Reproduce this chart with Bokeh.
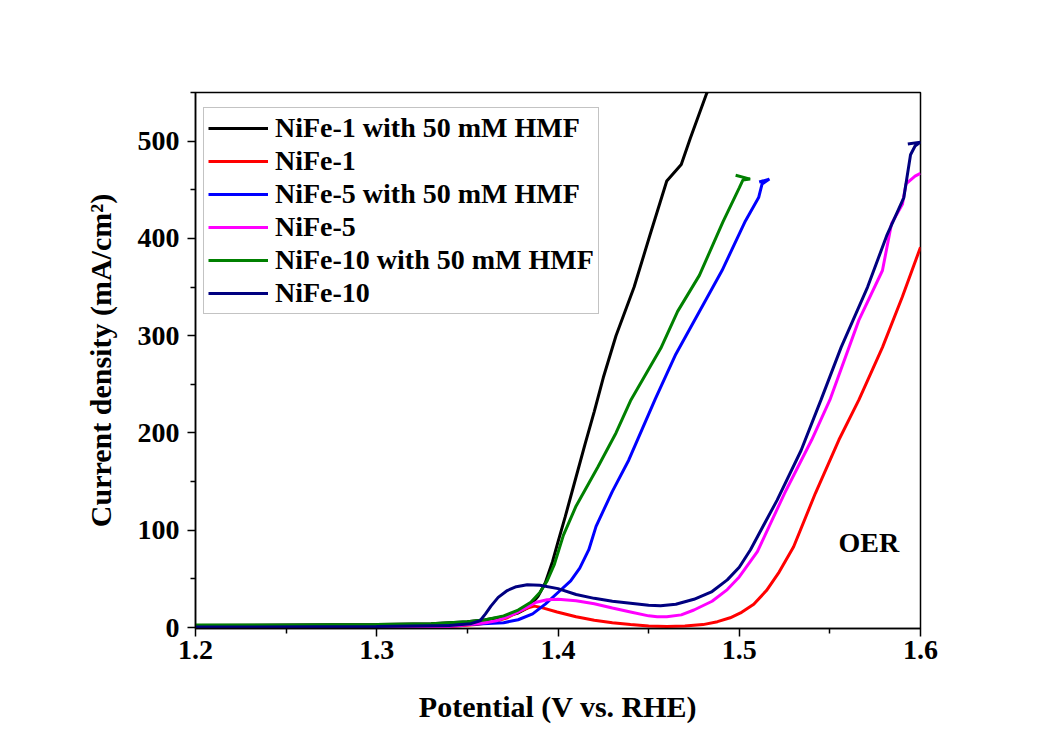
from bokeh.plotting import figure
from bokeh.models import FixedTicker, Label, Legend, LegendItem, Range1d
from bokeh.embed import file_html
from bokeh.resources import INLINE

# ---- data (potential V vs RHE, current density mA/cm2) ----
nife1_hmf_x = [1.20, 1.25, 1.30, 1.33, 1.35, 1.36, 1.37, 1.378, 1.384, 1.389, 1.393, 1.397, 1.40, 1.404,
               1.41, 1.415, 1.42, 1.425, 1.432, 1.442, 1.451, 1.460, 1.468, 1.473, 1.482, 1.485]
nife1_hmf_y = [2, 2.5, 3, 4, 6, 8, 11, 15, 21, 32, 46, 68, 88, 114,
               155, 189, 222, 257, 300, 350, 405, 459, 476, 503, 549, 560]

nife1_x = [1.20, 1.30, 1.34, 1.355, 1.365, 1.372, 1.377, 1.383, 1.387, 1.392, 1.3995, 1.41, 1.42,
           1.43, 1.44, 1.45, 1.46, 1.47, 1.48, 1.488, 1.495, 1.5007, 1.508, 1.515, 1.522,
           1.530, 1.542, 1.555, 1.566, 1.579, 1.590, 1.600]
nife1_y = [0, 0.3, 1, 3, 6, 10, 15, 20, 22, 20, 16, 11, 7.5,
           5, 3, 1.5, 1, 1.5, 3, 6, 10, 15, 24, 38, 57,
           83, 138, 193, 234, 288, 340, 391]

nife5_hmf_x = [1.20, 1.30, 1.35, 1.37, 1.378, 1.386, 1.393, 1.40, 1.407, 1.412, 1.417, 1.421, 1.430,
               1.439, 1.4537, 1.465, 1.4813, 1.4905, 1.5034, 1.5107, 1.5126, 1.5166, 1.511]
nife5_hmf_y = [1, 1.5, 3, 5, 8, 14, 24, 36, 48, 61, 80, 104, 140,
               172, 235, 281, 336, 367, 418, 442, 456, 461, 458]

nife5_x = [1.20, 1.30, 1.34, 1.351, 1.36, 1.366, 1.372, 1.377, 1.383, 1.388, 1.394, 1.40, 1.41,
           1.42, 1.43, 1.44, 1.45, 1.4547, 1.46, 1.468, 1.475, 1.485, 1.4934, 1.50, 1.51,
           1.525, 1.540, 1.550, 1.566, 1.579, 1.584, 1.590, 1.592, 1.597, 1.600]
nife5_y = [0, 0.5, 1, 3, 5, 7, 11, 15, 21, 26, 28.5, 29, 27.5,
           24.5, 20, 16, 12, 11, 11, 13, 18, 27, 39, 52, 78,
           138, 193, 234, 316, 367, 415, 435, 456, 464, 467]

nife10_hmf_x = [1.20, 1.25, 1.30, 1.33, 1.35, 1.36, 1.37, 1.378, 1.385, 1.39, 1.394, 1.398, 1.403,
                1.41, 1.422, 1.432, 1.440, 1.4567, 1.466, 1.478, 1.491, 1.500, 1.502, 1.506, 1.498]
nife10_hmf_y = [2.5, 2.5, 3, 4, 6, 8, 12, 18, 26, 36, 48, 65, 95,
                125, 165, 200, 233, 287, 325, 362, 417, 452, 460, 461, 465]

nife10_x = [1.20, 1.30, 1.34, 1.352, 1.357, 1.360, 1.363, 1.367, 1.372, 1.377, 1.383, 1.39, 1.40,
            1.41, 1.42, 1.43, 1.44, 1.45, 1.4566, 1.465, 1.475, 1.485, 1.4934, 1.50, 1.5062,
            1.5209, 1.5341, 1.5451, 1.5562, 1.5708, 1.5816, 1.5908, 1.5945, 1.597, 1.600, 1.593]
nife10_y = [0.5, 1, 2, 4, 7, 14, 22, 31, 38, 42, 44, 43.5, 40,
            34, 30, 27, 25, 23, 22.5, 24, 29, 37, 49, 62, 80,
            131, 182, 234, 288, 350, 404, 442, 486, 495, 499, 497]

series_names = ["NiFe-1 with 50 mM HMF", "NiFe-1", "NiFe-5 with 50 mM HMF",
                "NiFe-5", "NiFe-10 with 50 mM HMF", "NiFe-10"]
series_x = [nife1_hmf_x, nife1_x, nife5_hmf_x, nife5_x, nife10_hmf_x, nife10_x]
series_y = [nife1_hmf_y, nife1_y, nife5_hmf_y, nife5_y, nife10_hmf_y, nife10_y]
series_colors = ["#000000", "#ff0000", "#0000ff", "#ff00ff", "#008000", "#000080"]

x_ticks = [1.2, 1.3, 1.4, 1.5, 1.6]
x_minor = [1.25, 1.35, 1.45, 1.55]
y_ticks = [0, 100, 200, 300, 400, 500]
y_minor = [50, 150, 250, 350, 450, 550]

FONT = "Liberation Serif"

p = figure(width=1020, height=728, output_backend="svg", toolbar_location=None,
           x_range=Range1d(1.2, 1.6), y_range=Range1d(-1, 550),
           min_border_left=195, min_border_right=100, min_border_top=92, min_border_bottom=100)
p.background_fill_color = "white"
p.border_fill_color = "white"
p.outline_line_color = "black"
p.outline_line_width = 1.5
p.xgrid.visible = False
p.ygrid.visible = False

renderers = []
for xs, ys, c in zip(series_x, series_y, series_colors):
    r = p.line(xs, ys, line_color=c, line_width=3)
    renderers.append(r)

legend = Legend(items=[LegendItem(label=n, renderers=[r]) for n, r in zip(series_names, renderers)],
                location=(8, 314))
legend.label_text_font = FONT
legend.label_text_font_style = "bold"
legend.label_text_font_size = "28px"
legend.label_text_color = "black"
legend.label_height = 30
legend.glyph_height = 30
legend.glyph_width = 60
legend.label_standoff = 7
legend.spacing = 1
legend.padding = 4
legend.border_line_color = "#888888"
legend.border_line_width = 1
legend.background_fill_alpha = 1
legend.margin = 0
p.add_layout(legend, "center")

for ax in (p.xaxis[0], p.yaxis[0]):
    ax.axis_line_width = 1.5
    ax.major_tick_line_width = 1.5
    ax.minor_tick_line_width = 1.5
    ax.major_tick_in = 0
    ax.major_tick_out = 8
    ax.minor_tick_in = 0
    ax.minor_tick_out = 5
    ax.major_label_text_font = FONT
    ax.major_label_text_font_style = "bold"
    ax.major_label_text_font_size = "28px"
    ax.major_label_text_color = "black"
    ax.axis_label_text_font = FONT
    ax.axis_label_text_font_style = "bold"
    ax.axis_label_text_font_size = "30px"
    ax.axis_label_text_color = "black"

p.xaxis[0].ticker = FixedTicker(ticks=x_ticks, minor_ticks=x_minor)
p.yaxis[0].ticker = FixedTicker(ticks=y_ticks, minor_ticks=y_minor)
p.xaxis[0].axis_label = "Potential (V vs. RHE)"
p.yaxis[0].axis_label = "Current density (mA/cm\u00b2)"
p.xaxis[0].major_label_standoff = 4
p.yaxis[0].major_label_standoff = 8
p.xaxis[0].axis_label_standoff = 28
p.yaxis[0].axis_label_standoff = 18

p.add_layout(Label(x=1.5548, y=87, text="OER", text_font=FONT, text_font_style="bold",
                   text_font_size="28px", text_color="black",
                   text_baseline="middle", text_align="left"))

open("out.html", "w").write(file_html(p, INLINE))
